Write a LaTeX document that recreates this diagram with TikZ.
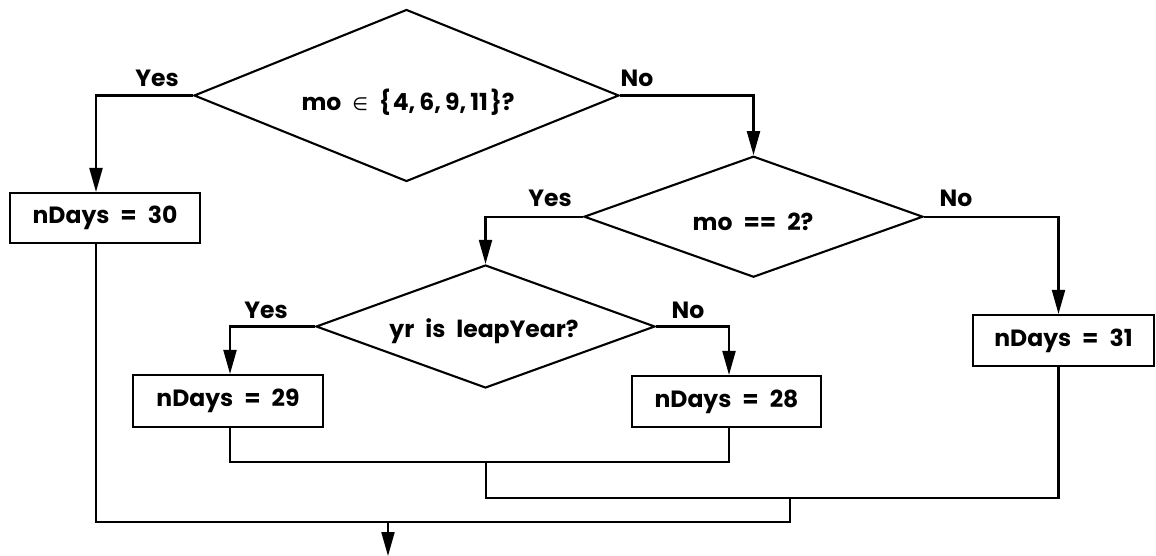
\documentclass[tikz,border=0pt]{standalone}
\usepackage{fontspec}
\setmainfont{Poppins}
\newfontfamily\symfont{DejaVu Sans}
\usetikzlibrary{shapes.geometric,arrows.meta}
\newcommand\nodefont{\bfseries\fontsize{23.5}{28}\selectfont\spaceskip=11pt\relax}
\newcommand\cm{,\kern4pt}
\begin{document}
\begin{tikzpicture}[x=1pt,y=-1pt,
  line width=2.1pt,
  every node/.style={font=\nodefont},
  dec/.style={draw, diamond, inner sep=0pt},
  proc/.style={draw, rectangle, inner sep=0pt},
  lbl/.style={inner sep=0pt},
  arr/.style={-{Triangle[length=24pt,width=13pt]}}]
\useasboundingbox (0,0) rectangle (1156,556);
% decisions
\node[dec, minimum width=425pt, minimum height=172pt, shape aspect=2.5] (d1) at (406.5,95.5) {};
\node[lbl] (t1) at (408,102) {mo {\symfont\mdseries\fontsize{18}{20}\selectfont ∈} \{\kern2pt 4\cm 6\cm 9\cm 11\kern2pt\}?};
\node[dec, minimum width=339pt, minimum height=121pt, shape aspect=2.8] (d2) at (753.5,216.7) {};
\node[lbl] (t2) at (753,222) {mo == 2?};
\node[dec, minimum width=339pt, minimum height=123pt, shape aspect=2.76] (d3) at (485.5,326.5) {};
\node[lbl] (t3) at (484,331) {yr is leapYear?};
% boxes
\node[proc, minimum width=190pt, minimum height=50pt] (b30) at (105,218) {nDays = 30};
\node[proc, minimum width=181pt, minimum height=51pt] (b31) at (1063.5,340.5) {nDays = 31};
\node[proc, minimum width=190pt, minimum height=52pt] (b29) at (228,401) {nDays = 29};
\node[proc, minimum width=189pt, minimum height=51pt] (b28) at (726.5,401.5) {nDays = 28};
% labels
\node[lbl] (y1) at (157,78) {Yes};
\node[lbl] (n1) at (637,78) {No};
\node[lbl] (y2) at (550,198) {Yes};
\node[lbl] (n2) at (956,198) {No};
\node[lbl] (y3) at (266,310) {Yes};
\node[lbl] (n3) at (688,310) {No};
% branches
\draw[arr] (d1.west) -| ([xshift=-9pt]b30.north);
\draw[arr] (d1.east) -| (d2.north);
\draw[arr] (d2.west) -| (d3.north);
\draw[arr] (d2.east) -| ([xshift=-5pt]b31.north);
\draw[arr] (d3.west) -| ([xshift=2pt]b29.north);
\draw[arr] (d3.east) -| ([xshift=2.5pt]b28.north);
% merges
\coordinate (j1) at (486,462);
\coordinate (j2) at (790,498);
\coordinate (j3) at (388,522);
\coordinate (out) at (388,556);
\draw ([xshift=2pt]b29.south) |- (j1) -| ([xshift=2.5pt]b28.south);
\draw (j1) |- (j2) -| ([xshift=-5pt]b31.south);
\draw ([xshift=-9pt]b30.south) |- (j3) -| (j2);
\draw[arr] (j3) -- (out);
\end{tikzpicture}
\end{document}
